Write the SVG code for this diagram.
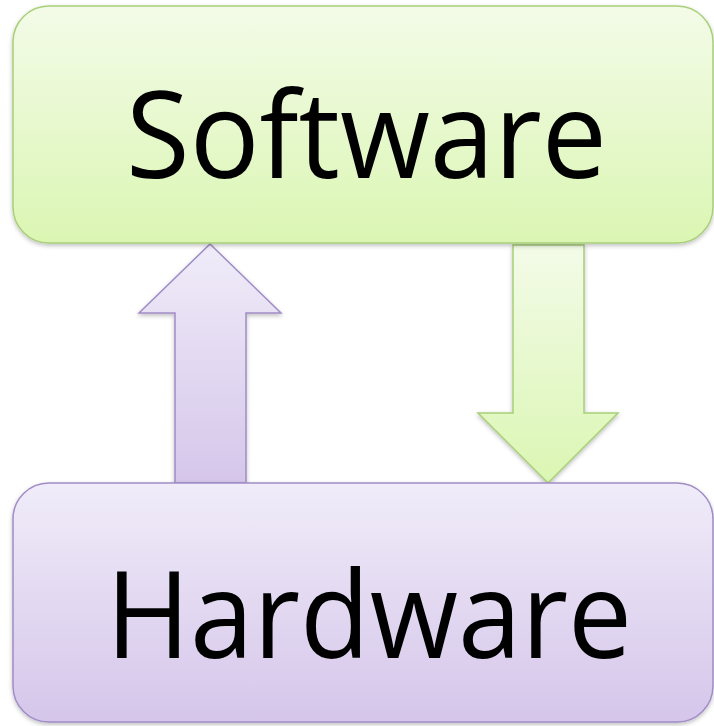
<svg xmlns="http://www.w3.org/2000/svg" width="714" height="726" viewBox="0 0 714 726">
  <defs>
    <linearGradient id="gGreen" x1="0" y1="0" x2="0" y2="1">
      <stop offset="0" stop-color="#f3fbe8"/>
      <stop offset="1" stop-color="#dbf6b3"/>
    </linearGradient>
    <linearGradient id="gPurple" x1="0" y1="0" x2="0" y2="1">
      <stop offset="0" stop-color="#f0ecf9"/>
      <stop offset="1" stop-color="#d5c6ea"/>
    </linearGradient>
    <filter id="shadow" x="-5%" y="-5%" width="110%" height="115%">
      <feDropShadow dx="0" dy="2" stdDeviation="2" flood-color="#000" flood-opacity="0.25"/>
    </filter>
    <style>
      .green { fill: url(#gGreen); stroke: #a8cf78; stroke-width: 1.5; filter: url(#shadow); }
      .purple { fill: url(#gPurple); stroke: #a08cc6; stroke-width: 1.5; filter: url(#shadow); }
      .label { font-family: "Open Sans", "Noto Sans", "Liberation Sans", sans-serif; font-size: 120px; fill: #000; }
    </style>
  </defs>
  <g id="connectors">
    <path id="arrow-up" class="purple" d="M175,483 L175,313 L139,313 L210,244 L281,313 L246,313 L246,483 Z"/>
    <path id="arrow-down" class="green" d="M513,245 L584,245 L584,413 L618,413 L548,483 L478,413 L513,413 Z"/>
  </g>
  <g id="software">
    <rect class="green" x="13" y="6" width="700" height="237" rx="36" ry="36"/>
    <text class="label" x="126" y="178" textLength="481" lengthAdjust="spacingAndGlyphs">Software</text>
  </g>
  <g id="hardware">
    <rect class="purple" x="13" y="483" width="700" height="239" rx="36" ry="36"/>
    <text class="label" x="106" y="658" textLength="526" lengthAdjust="spacingAndGlyphs">Hardware</text>
  </g>
</svg>
